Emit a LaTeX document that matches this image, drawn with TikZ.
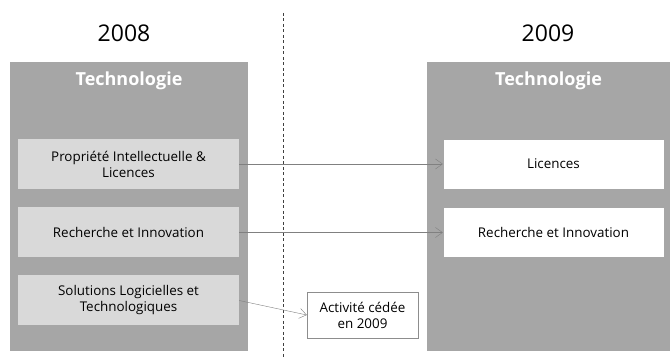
\documentclass[tikz,border=0pt]{standalone}
\usepackage{fontspec}
\setmainfont{Open Sans}
\usetikzlibrary{arrows.meta}

\definecolor{panelGray}{RGB}{166,166,166}
\definecolor{itemGray}{RGB}{217,217,217}
\definecolor{lineGray}{RGB}{128,128,128}

\tikzset{
    panelBox/.style = {fill = panelGray, minimum width = #1, minimum height = 289pt, inner sep = 0pt},
    panelTitle/.style = {text = white, font = \fontsize{18}{21}\selectfont\bfseries},
    yearLabel/.style = {font = \fontsize{23}{27}\selectfont},
    oldItem/.style = {fill = itemGray, minimum width = 221pt, minimum height = 50pt, align = center, inner sep = 0pt, font = \fontsize{13.4}{16}\selectfont},
    newItem/.style = {fill = white, draw = lineGray!70, minimum width = 221pt, minimum height = 50pt, align = center, inner sep = 0pt, font = \fontsize{13.4}{16}\selectfont},
    soldItem/.style = {fill = white, draw = lineGray!90, minimum width = 111pt, minimum height = 46pt, align = center, inner sep = 0pt, font = \fontsize{13.4}{16}\selectfont},
    flowArrow/.style = {draw = lineGray, -{Straight Barb[length = 7pt, width = 10pt]}}
}

\begin{document}
\begin{tikzpicture}[x = 1pt, y = -1pt]

    \useasboundingbox (0,0) rectangle (670,358);

    %% Separator between the two years
    \draw [dashed, dash pattern = on 3pt off 2.5pt, black!75]
    (283,13) coordinate (sepTop)
    -- (283,358) coordinate (sepBottom)
    ;

    %% Drawing 2008 side
    \node [panelBox = 238pt] (panelOld) at (129,206.5) {};
    \node [yearLabel] (yearOld) at (124,33) {2008};
    \node [panelTitle] (titleOld) at (129,81) {Technologie};

    \node [oldItem] (propOld) at (128.5,164) {Propriété Intellectuelle \&\\ Licences};
    \node [oldItem] (rechOld) at (128.5,232.5) {Recherche et Innovation};
    \node [oldItem] (soluOld) at (128.5,300.5) {Solutions Logicielles et\\ Technologiques};

    %% Drawing 2009 side
    \node [panelBox = 243pt] (panelNew) at (548.5,206.5) {};
    \node [yearLabel] (yearNew) at (548,33) {2009};
    \node [panelTitle] (titleNew) at (548.5,81) {Technologie};

    \node [newItem] (licNew) at (553.5,164) {Licences};
    \node [newItem] (rechNew) at (553.5,232.5) {Recherche et Innovation};

    %% Sold activity
    \node [soldItem] (sold) at (362.5,315) {Activité cédée\\ en 2009};

    %% Drawing the arrows
    \draw [flowArrow] (propOld.east) -- (licNew.west);
    \draw [flowArrow] (rechOld.east) -- (rechNew.west);
    \draw [flowArrow] (soluOld.east) -- (sold.west);

\end{tikzpicture}
\end{document}
